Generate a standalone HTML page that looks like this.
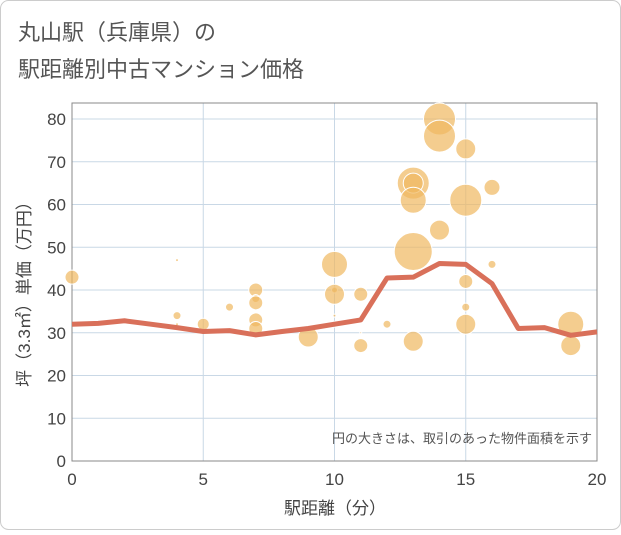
<!DOCTYPE html>
<html><head><meta charset="utf-8"><style>
body{margin:0;background:#fff;}
svg text{font-family:"Liberation Sans","Noto Sans CJK JP",sans-serif;}
</style></head><body>
<svg id="c" width="621" height="530">
<rect x="0.5" y="0.5" width="620" height="529" rx="8" fill="#fff" stroke="#ccc"/>
<text x="18" y="40" font-size="22" fill="#555">丸山駅（兵庫県）の</text>
<text x="18" y="77" font-size="22" fill="#555">駅距離別中古マンション価格</text>
<g id="grid"></g><g id="marks"></g>
<text x="592" y="443" font-size="13" fill="#555" text-anchor="end">円の大きさは、取引のあった物件面積を示す</text>
<text x="335" y="514" font-size="17" fill="#444" text-anchor="middle">駅距離（分）</text>
<text transform="translate(30,290) rotate(-90)" font-size="17" fill="#444" text-anchor="middle">坪（3.3㎡）単価（万円）</text>
</svg>
<script>
const xTicks=[0,5,10,15,20];
const yTicks=[0,10,20,30,40,50,60,70,80];
const bx=[0,4,4,4,5,6,7,7,7,7,7,9,10,10,10,10,10,11,11,11,12,13,13,13,13,13,14,14,14,15,15,15,15,15,16,16,19,19];
const by=[43,47,34,32,32,36,40,38,37,33,31,29,46,40,39,34,32,39,30,27,32,65,65,61,49,28,80,76,54,73,61,42,36,32,64,46,32,27];
const br=[7,1.5,4,1.5,6,4,7,4,7,7,7,10,13,3,10,1.5,3,7,1,7,4,16,10,13,19,10,16,16,10,10,16,7,4,10,8,4,13,10];
const lx=[0,1,2,3,4,5,6,7,8,9,10,11,12,13,14,15,16,17,18,19,20];
const ly=[32,32.2,32.8,32,31.2,30.3,30.5,29.5,30.3,31,32,33,42.8,43,46.2,46,41.5,31,31.2,29.4,30.2];
const L=72,R=597,T=103,B=461;
const sx=v=>L+(R-L)*v/20, sy=v=>B-(B-119)*v/80;
const NS="http://www.w3.org/2000/svg";
function mk(t,a,p){const e=document.createElementNS(NS,t);for(const k in a)e.setAttribute(k,a[k]);p.appendChild(e);return e;}
const g=document.getElementById('grid'),m=document.getElementById('marks');
xTicks.forEach(v=>{const l=mk('line',{x1:sx(v),x2:sx(v),y1:T,y2:B,stroke:'#c9d8e6'},g);

const t=mk('text',{x:sx(v),y:B+24,'font-size':17,fill:'#444','text-anchor':'middle'},g);t.textContent=v;
});
yTicks.forEach(v=>{const l=mk('line',{x1:L,x2:R,y1:sy(v),y2:sy(v),stroke:'#c9d8e6'},g);

const t=mk('text',{x:L-6,y:sy(v)+6,'font-size':17,fill:'#444','text-anchor':'end'},g);t.textContent=v;
});
const f=mk('rect',{x:L,y:T,width:R-L,height:B-T,fill:'none',stroke:'#888'},g);

bx.forEach((v,i)=>{const c=mk('circle',{cx:sx(v),cy:sy(by[i]),r:br[i],fill:'#f0b860','fill-opacity':0.7,stroke:'#fff','stroke-width':1},m);
});
const p=mk('polyline',{points:lx.map((v,i)=>sx(v)+','+sy(ly[i])).join(' '),fill:'none',stroke:'#d9705a','stroke-width':5,'stroke-linejoin':'round'},m);

</script>
</body></html>
